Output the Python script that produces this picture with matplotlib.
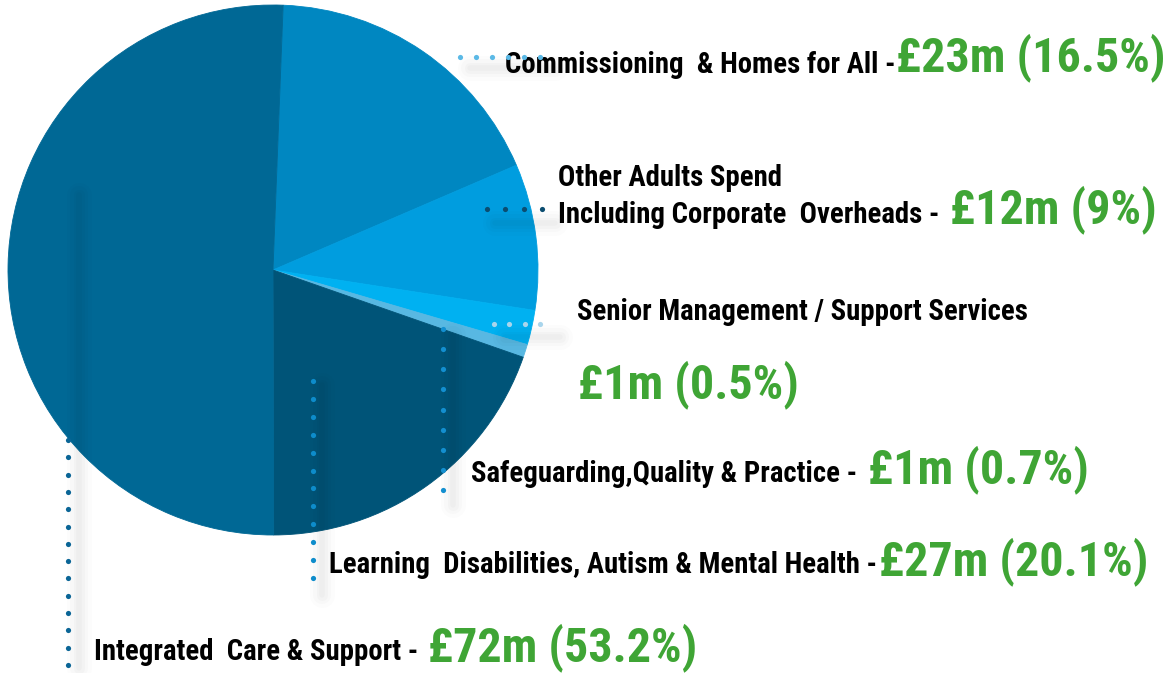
import matplotlib
matplotlib.use('Agg')
import matplotlib.pyplot as plt
from matplotlib import font_manager


# data
categories = [
	'Commissioning  & Homes for All',
	'Other Adults Spend\nIncluding Corporate  Overheads',
	'Senior Management / Support Services',
	'Safeguarding,Quality & Practice',
	'Learning  Disabilities, Autism & Mental Health',
	'Integrated  Care & Support',
]
amounts = ['£23m', '£12m', '£1m', '£1m', '£27m', '£72m']
percent_labels = ['16.5%', '9%', '0.5%', '0.7%', '20.1%', '53.2%']
# share of the circle each wedge takes in the drawing
wedge_share = [17.9, 8.9, 2.1, 0.8, 19.6, 50.6]
wedge_colors = ['#0087c1', '#009ddf', '#00b1f1', '#58b8e2', '#005478', '#006895']

GREEN = '#3fa535'

names = {f.name for f in font_manager.fontManager.ttflist}
font = 'DejaVu Sans'
for cand in ['Liberation Sans Narrow', 'Roboto Condensed', 'Open Sans Condensed', 'Noto Sans Display']:
	if cand in names:
		font = cand
		break
plt.rcParams['font.family'] = [font, 'DejaVu Sans']

W, H = 1169, 673
fig = plt.figure(figsize=(W / 100, H / 100), dpi=100)
ax = fig.add_axes([0, 0, 1, 1])

wedges, _ = ax.pie(wedge_share, colors=wedge_colors, startangle=87.8, counterclock=False,
	center=(273, H - 270), radius=265)
for w in wedges:
	w.set_edgecolor(w.get_facecolor())
	w.set_linewidth(0.6)

ax.set_xlim(0, W)
ax.set_ylim(0, H)
ax.set_aspect('equal')
ax.axis('off')


def py(y):
	return H - y


def shadow(x0, y0, x1, y1):
	# soft grey blur under the leader lines
	for lw, a in [(18, 0.01), (13, 0.015), (8, 0.02), (4, 0.02)]:
		ax.plot([x0, x1], [py(y0), py(y1)], color='black', lw=lw, alpha=a,
			solid_capstyle='round', zorder=3)


def dots(x0, y0, x1, y1, n, color):
	xs = [x0 + (x1 - x0) * i / (n - 1) for i in range(n)]
	ys = [py(y0 + (y1 - y0) * i / (n - 1)) for i in range(n)]
	ax.scatter(xs, ys, s=14, color=color, linewidths=0, zorder=6)


shadow(470, 68, 555, 68)
shadow(495, 223, 555, 223)
shadow(505, 337, 560, 337)
shadow(79, 195, 79, 668)
shadow(322, 385, 322, 595)
shadow(453, 335, 453, 505)

dots(460, 57, 540, 57, 6, '#5bb9e6')
dots(487, 209, 542, 209, 4, '#0b4d70')
dots(494, 324, 540, 324, 4, '#a9d5ec')
dots(443, 329, 443, 490, 9, '#138fd0')
dots(313, 381, 313, 578, 12, '#0d8ccb')
dots(68, 440, 68, 665, 14, '#0a6596')

black_kw = dict(fontsize=20.7, fontweight='bold', color='black', va='center', ha='left', zorder=5)
green_kw = dict(fontsize=34.6, fontweight='bold', color=GREEN, va='center', ha='left', zorder=5)

ax.text(505, py(65), categories[0] + ' -', **black_kw)
ax.text(896, py(58), f'{amounts[0]} ({percent_labels[0]})', **green_kw)

ax.text(558, py(178), categories[1].split('\n')[0], **black_kw)
ax.text(558, py(215), categories[1].split('\n')[1] + ' -', **black_kw)
ax.text(950, py(210), f'{amounts[1]} ({percent_labels[1]})', **green_kw)

ax.text(577, py(312), categories[2], **black_kw)
ax.text(578, py(385), f'{amounts[2]} ({percent_labels[2]})', **green_kw)

ax.text(471, py(474), categories[3] + ' -', **black_kw)
ax.text(868, py(470), f'{amounts[3]} ({percent_labels[3]})', **green_kw)

ax.text(329, py(565), categories[4] + ' -', **black_kw)
ax.text(879, py(562), f'{amounts[4]} ({percent_labels[4]})', **green_kw)

ax.text(94, py(652), categories[5] + ' -', **black_kw)
ax.text(428, py(648), f'{amounts[5]} ({percent_labels[5]})', **green_kw)

fig.savefig('out.png', dpi=100)
